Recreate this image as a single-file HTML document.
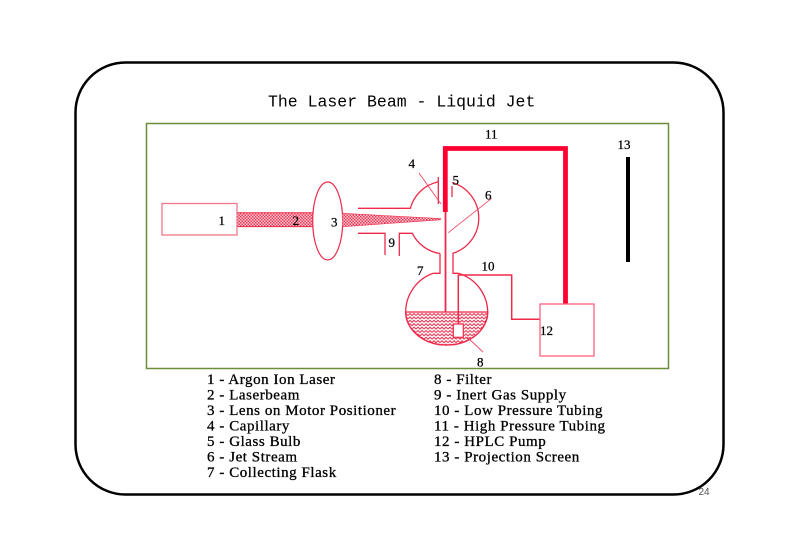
<!DOCTYPE html>
<html><head><meta charset="utf-8"><style>
html,body{margin:0;padding:0;background:#fff;}
svg{display:block;}
</style></head><body>
<svg width="800" height="560" viewBox="0 0 800 560" xmlns="http://www.w3.org/2000/svg">
<defs>
<pattern id="stip" width="3" height="3" patternUnits="userSpaceOnUse">
<rect width="3" height="3" fill="#f9c8d0"/>
<rect x="0" y="0" width="1.5" height="1.5" fill="#ec3a5a"/>
<rect x="1.5" y="1.5" width="1.5" height="1.5" fill="#ec3a5a"/>
</pattern>
<pattern id="wave" width="8" height="3.4" patternUnits="userSpaceOnUse">
<path d="M0,2.7 L2,0.7 L4,2.7 L6,0.7 L8,2.7" fill="none" stroke="#ee2a4a" stroke-width="1"/>
</pattern>
</defs>

<!-- outer frame -->
<rect x="75.5" y="62.5" width="648" height="432" rx="50" ry="50" fill="none" stroke="#000" stroke-width="2.5"/>
<!-- title -->
<text x="268" y="106.5" font-family="Liberation Mono, monospace" font-size="16.5" fill="#000">The Laser Beam - Liquid Jet</text>
<!-- green panel -->
<rect x="146.5" y="123.5" width="522" height="245" fill="none" stroke="#6b8e3a" stroke-width="1.5"/>

<!-- laser -->
<rect x="162" y="203.5" width="75" height="31.5" fill="#fff" stroke="#f07888" stroke-width="1.3"/>
<!-- beam -->
<rect x="237.5" y="212.8" width="75.5" height="13.8" fill="url(#stip)"/>
<line x1="237.5" y1="212.8" x2="313" y2="212.8" stroke="#ee2a4a" stroke-width="1"/>
<line x1="237.5" y1="226.6" x2="313" y2="226.6" stroke="#ee2a4a" stroke-width="1"/>
<!-- lens -->
<ellipse cx="327.7" cy="221" rx="15" ry="39" fill="#fff" stroke="#ee2a4a" stroke-width="1.2"/>
<!-- converging beam -->
<polygon points="342.5,213.3 441,218.6 441,219.8 342.5,226.7" fill="url(#stip)"/>
<line x1="342.5" y1="213.3" x2="441" y2="218.6" stroke="#ee2a4a" stroke-width="0.6"/>
<line x1="342.5" y1="226.7" x2="441" y2="219.8" stroke="#ee2a4a" stroke-width="0.6"/>

<g fill="none" stroke="#ee2a4a" stroke-width="1.3">
<!-- bulb -->
<path d="M358,208.3 L410.3,208.3 A37,37 0 0 1 438,181.9"/>
<line x1="438.3" y1="177" x2="438.3" y2="204"/>
<line x1="452" y1="186" x2="452" y2="197"/>
<path d="M452,182.5 A37,37 0 0 1 453,253.3 L453,273.3 L458.3,273.3"/>
<path d="M440,253.5 A37,37 0 0 1 412.3,233.3 L399.3,233.3 L399.3,256"/>
<path d="M358,233.3 L385,233.3 L385,255"/>
<path d="M440,253.5 L440,273.3 L433.3,273.3"/>
<!-- flask -->
<path d="M433.3,273.3 A41,41 0 0 0 405.7,312 A41,33 0 0 0 487.7,312 A41,41 0 0 0 458.3,273.3"/>
</g>
<!-- liquid -->
<path d="M405.7,312 A41,33 0 0 0 487.7,312 Z" fill="url(#wave)" stroke="#ee2a4a" stroke-width="1.3"/>

<!-- jet line -->
<line x1="445.5" y1="146" x2="445.5" y2="312" stroke="#ee2a4a" stroke-width="1.8"/>
<!-- high pressure tubing -->
<polyline points="445.3,212 445.3,148.5 565.5,148.5 565.5,304" fill="none" stroke="#ff0033" stroke-width="4.8"/>
<!-- low pressure tubing -->
<polyline points="458.3,324 458.3,275 511.7,275 511.7,319.3 540,319.3" fill="none" stroke="#ee2a4a" stroke-width="1.5"/>
<!-- filter -->
<rect x="453.3" y="324" width="10" height="13.3" fill="#fff" stroke="#ee2a4a" stroke-width="1.2"/>
<!-- pump -->
<rect x="540" y="304" width="54" height="52" fill="#fff" stroke="#ff6080" stroke-width="1.3"/>
<!-- screen -->
<rect x="626" y="157" width="4" height="105" fill="#000"/>

<!-- pointers -->
<g stroke="#ee4a66" stroke-width="0.9">
<line x1="419" y1="173" x2="441" y2="204"/>
<line x1="491.7" y1="198.3" x2="448.3" y2="232.7"/>
<line x1="467" y1="337" x2="483" y2="352"/>
</g>

<!-- labels -->
<g font-family="Liberation Serif, serif" font-size="13" fill="#000" stroke="#000" stroke-width="0.25">
<text x="485" y="138.5">11</text>
<text x="617.5" y="149">13</text>
<text x="408.5" y="168">4</text>
<text x="452.5" y="184.5">5</text>
<text x="485" y="199.5">6</text>
<text x="388.5" y="247">9</text>
<text x="417" y="275">7</text>
<text x="481.5" y="270.5">10</text>
<text x="477" y="366.5">8</text>
<text x="540" y="335">12</text>
<text x="218.5" y="225">1</text>
<text x="292.5" y="225">2</text>
<text x="331" y="226.5">3</text>
</g>

<!-- legend -->
<g font-family="Liberation Serif, serif" font-size="15" letter-spacing="0.55" fill="#000" stroke="#000" stroke-width="0.3">
<text x="207" y="384">1 - Argon Ion Laser</text>
<text x="207" y="399.5">2 - Laserbeam</text>
<text x="207" y="415">3 - Lens on Motor Positioner</text>
<text x="207" y="430.5">4 - Capillary</text>
<text x="207" y="446">5 - Glass Bulb</text>
<text x="207" y="461.5">6 - Jet Stream</text>
<text x="207" y="477">7 - Collecting Flask</text>
<text x="434" y="384">8 - Filter</text>
<text x="434" y="399.5">9 - Inert Gas Supply</text>
<text x="434" y="415">10 - Low Pressure Tubing</text>
<text x="434" y="430.5">11 - High Pressure Tubing</text>
<text x="434" y="446">12 - HPLC Pump</text>
<text x="434" y="461.5">13 - Projection Screen</text>
</g>

<text x="698.5" y="495" font-family="Liberation Sans, sans-serif" font-size="10" fill="#555">24</text>
</svg>
</body></html>
